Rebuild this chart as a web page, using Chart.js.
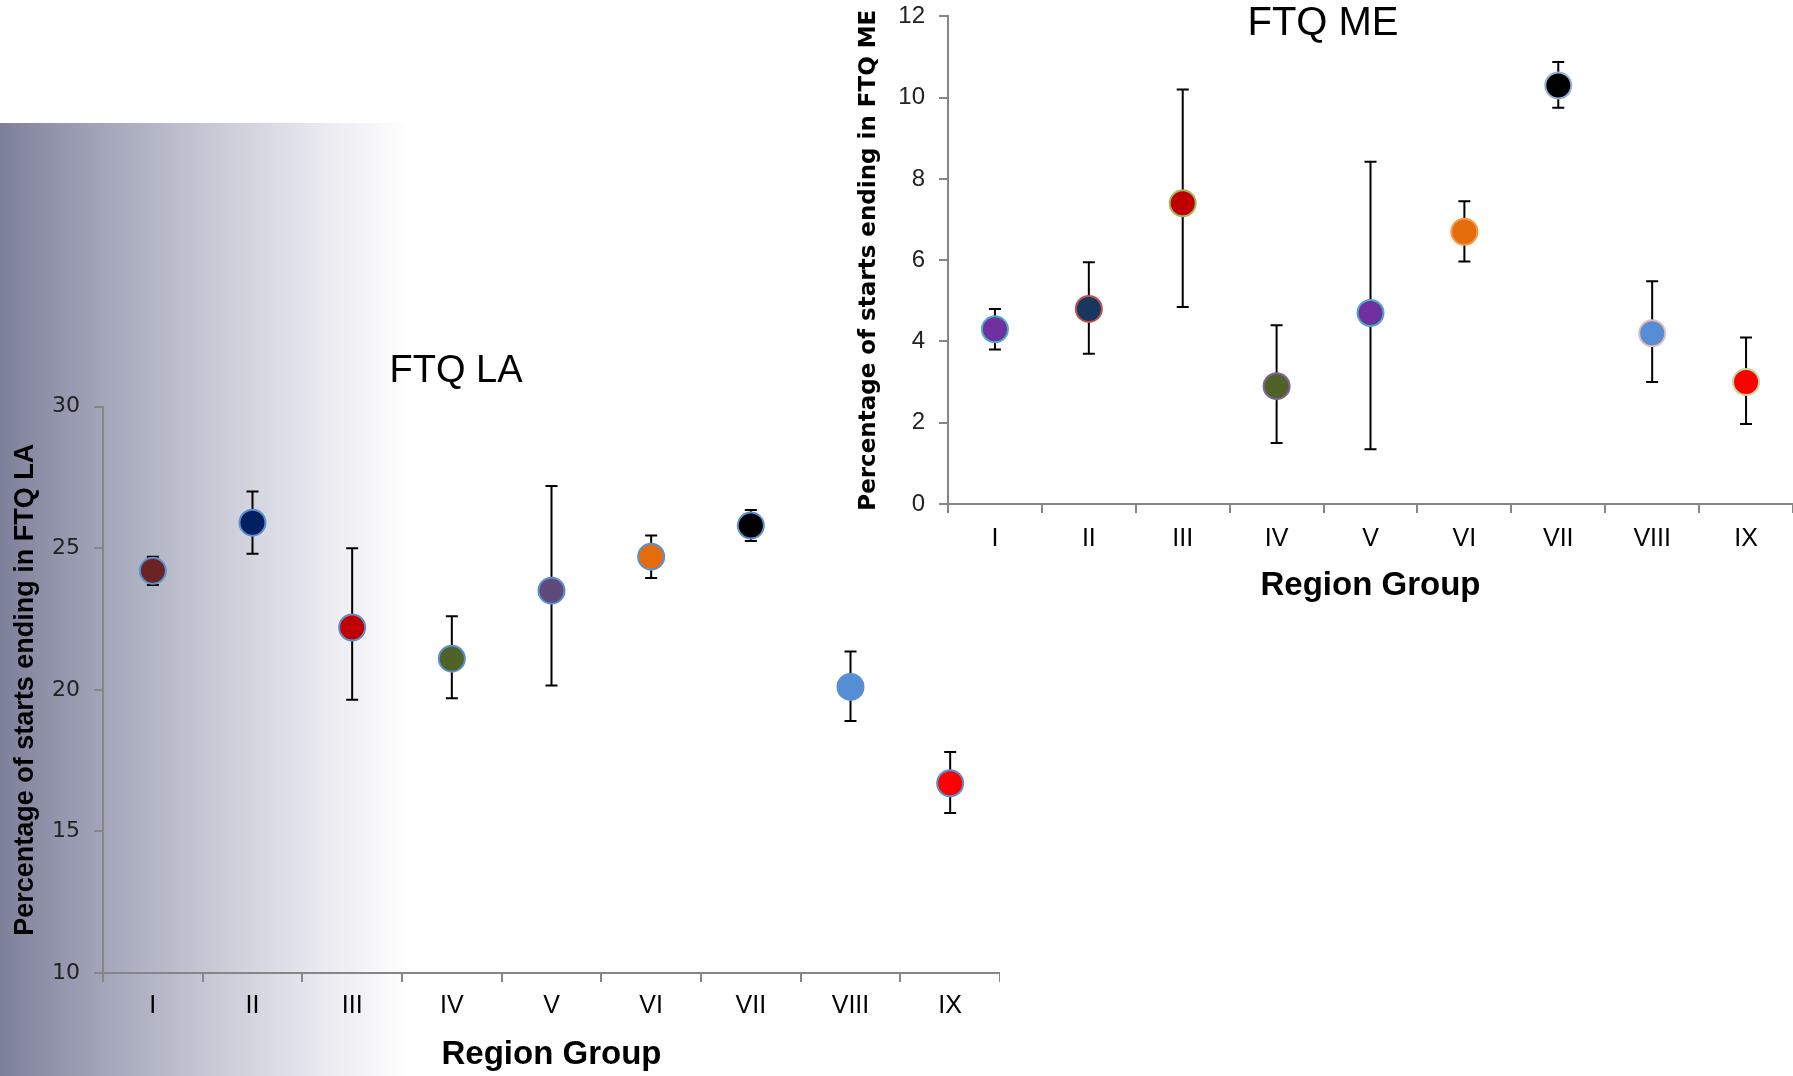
<!DOCTYPE html>
<html>
<head>
<meta charset="utf-8">
<title>FTQ by region group</title>
<script src="https://cdn.jsdelivr.net/npm/chart.js@4.4.1/dist/chart.umd.min.js"></script>
<style>
    html, body { margin: 0; padding: 0; background: #fff; }
    body { width: 1793px; height: 1076px; position: relative; overflow: hidden; }
    #shade {
        position: absolute; left: 0; top: 123px; width: 410px; height: 953px;
        background: linear-gradient(to right, #7d8099 0%, #a3a6ba 25%, #c7c9d5 52%, #ebebf1 80%, #ffffff 100%);
    }
    #la { position: absolute; left: -88px; top: 0; }
    #me { position: absolute; left: 853px; top: -12px; }
</style>
</head>
<body>
<div id="shade"></div>
<canvas id="la" width="1088" height="1076" style="width:1088px;height:1076px"></canvas>
<canvas id="me" width="940" height="632" style="width:940px;height:632px"></canvas>
<script>
const regionLabels = ['I', 'II', 'III', 'IV', 'V', 'VI', 'VII', 'VIII', 'IX'];

// FTQ LA
const laMean = [24.2, 25.9, 22.2, 21.1, 23.5, 24.7, 25.8, 20.1, 16.7];
const laLow  = [23.7, 24.8, 19.65, 19.7, 20.15, 23.95, 25.25, 18.9, 15.65];
const laHigh = [24.7, 27.0, 25.0, 22.6, 27.2, 25.45, 26.35, 21.35, 17.8];

// FTQ ME
const meMean = [4.3, 4.8, 7.4, 2.9, 4.7, 6.7, 10.3, 4.2, 3.0];
const meLow  = [3.8, 3.7, 4.85, 1.5, 1.35, 5.97, 9.75, 3.0, 1.97];
const meHigh = [4.8, 5.95, 10.2, 4.4, 8.42, 7.45, 10.88, 5.48, 4.1];

const laFill = ['#6b2424', '#002060', '#c00000', '#4f6228', '#604a7b', '#e46c0a', '#000000', '#558ed5', '#ff0000'];
const laEdge = '#5b8fd0';
const meFill = ['#7030a0', '#17375e', '#c00000', '#4f6228', '#7030a0', '#e46c0a', '#000000', '#558ed5', '#ff0000'];
const meEdge = ['#4bacc6', '#c0504d', '#9bbb59', '#8064a2', '#4bacc6', '#f79646', '#95b3d7', '#e6b9b8', '#c3d69b'];

const NARROW = '"Liberation Sans Narrow", "Liberation Sans", sans-serif';
const AXIS_GREY = '#868686';

const errorBars = {
    id: 'errorBars',
    beforeDatasetsDraw(chart, args, opts) {
        const {ctx, scales: {x, y}} = chart;
        ctx.save();
        ctx.strokeStyle = '#000';
        ctx.lineWidth = 2;
        opts.low.forEach((lo, i) => {
            const px = x.getPixelForValue(i);
            const yLo = y.getPixelForValue(lo);
            const yHi = y.getPixelForValue(opts.high[i]);
            ctx.beginPath();
            ctx.moveTo(px, yLo);
            ctx.lineTo(px, yHi);
            ctx.moveTo(px - 6, yLo);
            ctx.lineTo(px + 6, yLo);
            ctx.moveTo(px - 6, yHi);
            ctx.lineTo(px + 6, yHi);
            ctx.stroke();
        });
        ctx.restore();
    }
};

function makeChart(id, cfg) {
    return new Chart(document.getElementById(id), {
        type: 'line',
        data: {
            labels: regionLabels,
            datasets: [{
                data: cfg.mean,
                showLine: false,
                pointRadius: 13,
                pointHoverRadius: 13,
                pointBorderWidth: 2,
                pointBackgroundColor: cfg.fill,
                pointBorderColor: cfg.edge
            }]
        },
        plugins: [errorBars],
        options: {
            responsive: false,
            animation: false,
            events: [],
            layout: { padding: 0, autoPadding: false },
            plugins: {
                legend: { display: false },
                tooltip: { enabled: false },
                title: cfg.title,
                errorBars: { low: cfg.low, high: cfg.high }
            },
            scales: {
                x: {
                    type: 'category',
                    offset: true,
                    border: { color: AXIS_GREY, width: 2 },
                    grid: { offset: true, drawOnChartArea: false, tickLength: 9, color: AXIS_GREY, lineWidth: 2 },
                    ticks: { color: '#000', padding: cfg.xPad, font: { family: NARROW, size: 25 } },
                    title: {
                        display: true,
                        text: 'Region Group',
                        color: '#000',
                        padding: { top: 0, bottom: cfg.xTitlePad },
                        font: { family: NARROW, size: 33, weight: 'bold' }
                    },
                    afterFit: s => { s.height = cfg.xHeight; }
                },
                y: {
                    min: cfg.min,
                    max: cfg.max,
                    border: { color: AXIS_GREY, width: 2 },
                    grid: { drawOnChartArea: false, tickLength: 9, color: AXIS_GREY, lineWidth: 2 },
                    ticks: { stepSize: cfg.step, color: '#222', padding: 14, font: cfg.yTickFont },
                    title: {
                        display: true,
                        text: cfg.yTitle,
                        color: '#000',
                        padding: { top: cfg.yTitlePad, bottom: 0 },
                        font: cfg.yTitleFont
                    },
                    afterFit: s => { s.width = cfg.yWidth; }
                }
            }
        }
    });
}

makeChart('la', {
    mean: laMean, low: laLow, high: laHigh, fill: laFill, edge: laEdge,
    min: 10, max: 30, step: 5,
    yTitle: 'Percentage of starts ending in FTQ LA',
    yTitleFont: { family: NARROW, size: 27, weight: 'bold' },
    yTickFont: { family: '"DejaVu Sans", sans-serif', size: 22 },
    yTitlePad: 97, yWidth: 191,
    xHeight: 103, xPad: 9, xTitlePad: 1,
    title: {
        display: true,
        text: 'FTQ LA',
        color: '#000',
        font: { family: '"Liberation Sans", sans-serif', size: 38, weight: 'normal' },
        padding: { top: 349, bottom: 12 }
    }
});

makeChart('me', {
    mean: meMean, low: meLow, high: meHigh, fill: meFill, edge: meEdge,
    min: 0, max: 12, step: 2,
    yTitle: 'Percentage of starts ending in FTQ ME',
    yTitleFont: { family: '"DejaVu Sans", sans-serif', size: 23, weight: 'bold' },
    yTickFont: { family: NARROW, size: 24 },
    yTitlePad: 2, yWidth: 95,
    xHeight: 116, xPad: 11, xTitlePad: 14,
    title: {
        display: true,
        text: 'FTQ ME',
        color: '#000',
        font: { family: NARROW, size: 40, weight: 'normal' },
        padding: { top: -1, bottom: -32 }
    }
});
</script>
</body>
</html>
